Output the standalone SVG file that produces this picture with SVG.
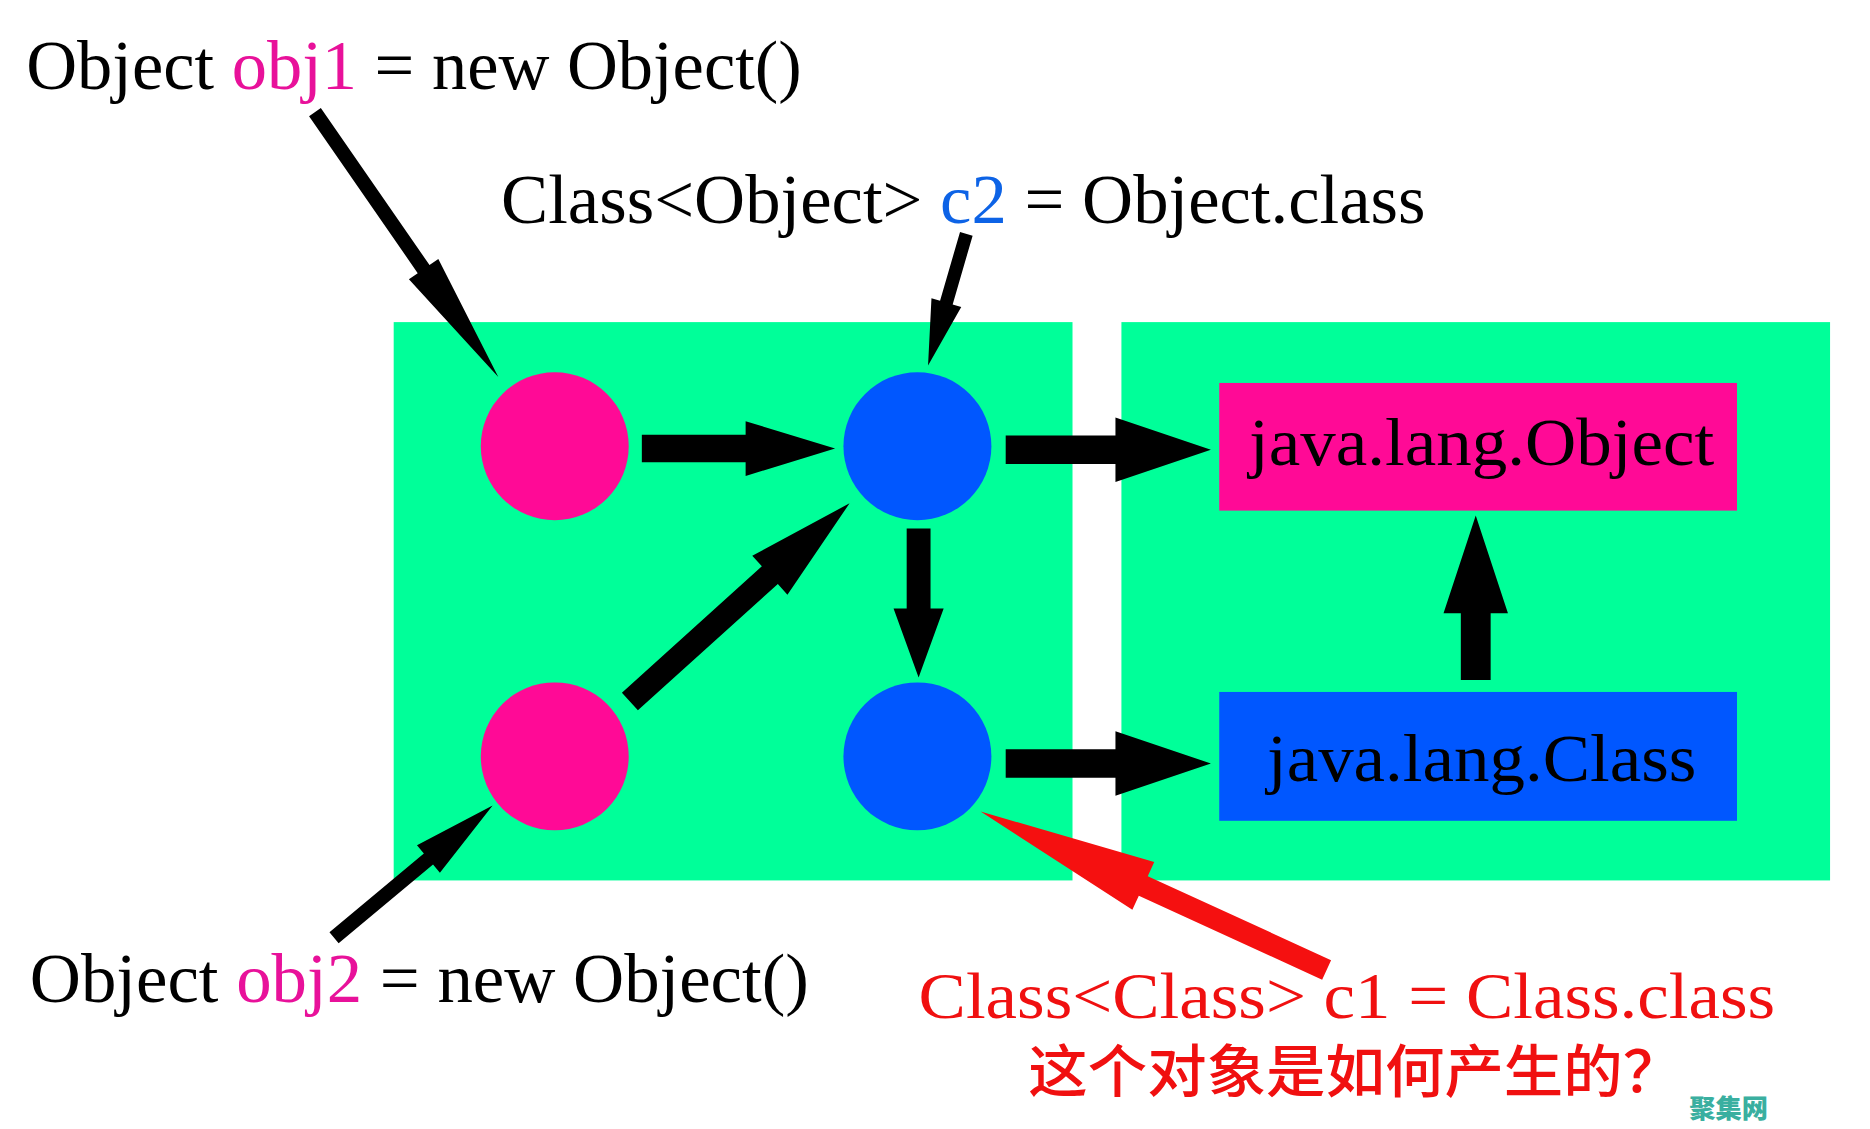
<svg xmlns="http://www.w3.org/2000/svg" width="1870" height="1129" viewBox="0 0 1870 1129">
<style>
.t{font-family:"Liberation Serif","Times New Roman",serif;font-size:58px;fill:#000}
.k{font-family:"Liberation Serif","Times New Roman",serif;font-size:56px;fill:#000}
.g{fill:#00FF99}
.pk{fill:#FF0A96}
.bl{fill:#0057FF}
.a{fill:#000}
</style>
<rect width="1870" height="1129" fill="#fff"/>
<g transform="scale(1.193)">
<g id="groupLeft"><rect class="g" x="330" y="270" width="569" height="468"/></g>
<g id="groupRight"><rect class="g" x="940" y="270" width="594" height="468"/></g>
<g id="obj1"><circle class="pk" cx="465" cy="374" r="62"/></g>
<g id="obj2"><circle class="pk" cx="465" cy="634" r="62"/></g>
<g id="c2"><circle class="bl" cx="769" cy="374" r="62"/></g>
<g id="c1"><circle class="bl" cx="769" cy="634" r="62"/></g>
<g id="javaObject"><rect class="pk" x="1022" y="321" width="434" height="107"/><text class="k" x="1047" y="390" textLength="390" lengthAdjust="spacingAndGlyphs">java.lang.Object</text></g>
<g id="javaClass"><rect class="bl" x="1022" y="580" width="434" height="108"/><text class="k" x="1062" y="655" textLength="360" lengthAdjust="spacingAndGlyphs">java.lang.Class</text></g>
<g id="labels">
<text class="t" x="22" y="75" textLength="650" lengthAdjust="spacingAndGlyphs">Object <tspan fill="#E8119A">obj1</tspan> = new Object()</text>
<text class="t" x="420" y="187" textLength="775" lengthAdjust="spacingAndGlyphs">Class&lt;Object&gt; <tspan fill="#0D63E6">c2</tspan> = Object.class</text>
<text class="t" x="25" y="840" textLength="653" lengthAdjust="spacingAndGlyphs">Object <tspan fill="#E8119A">obj2</tspan> = new Object()</text>
<text class="t" x="770" y="853" textLength="718" lengthAdjust="spacingAndGlyphs" style="fill:#F01010;font-size:55px">Class&lt;Class&gt; c1 = Class.class</text>
<text x="862" y="915" textLength="548" lengthAdjust="spacingAndGlyphs" style="font-family:'Noto Sans CJK SC',sans-serif;font-size:48px;font-weight:500;fill:#F01010">这个对象是如何产生的？</text>
<text x="1416" y="937" style="font-family:'Noto Sans CJK SC',sans-serif;font-size:22px;font-weight:900;fill:#3AAFA0">聚集网</text>
</g>
<g id="connectors">
<path class="a" d="M0,-6 L160,-6 L160,-15 L270,0 L160,15 L160,6 L0,6Z" transform="translate(264,94) rotate(55.3)"/>
<path class="a" d="M0,-5.5 L60,-5.5 L60,-13 L115,0 L60,13 L60,5.5 L0,5.5Z" transform="translate(810,196) rotate(106.2)"/>
<path class="a" d="M0,-11.5 L87,-11.5 L87,-23 L162,0 L87,23 L87,11.5 L0,11.5Z" transform="translate(538,376)"/>
<path class="a" d="M0,-12 L92,-12 L92,-27 L172,0 L92,27 L92,12 L0,12Z" transform="translate(843,377)"/>
<path class="a" d="M0,-10 L67,-10 L67,-21 L125,0 L67,21 L67,10 L0,10Z" transform="translate(770,443) rotate(90)"/>
<path class="a" d="M0,-10 L158,-10 L158,-22 L248,0 L158,22 L158,10 L0,10Z" transform="translate(528,588) rotate(-42.06)"/>
<path class="a" d="M0,-12 L92,-12 L92,-27 L172,0 L92,27 L92,12 L0,12Z" transform="translate(843,640)"/>
<path class="a" d="M0,-12.5 L56,-12.5 L56,-27 L138,0 L56,27 L56,12.5 L0,12.5Z" transform="translate(1237,570) rotate(-90)"/>
<path class="a" d="M0,-6 L103,-6 L103,-15 L173,0 L103,15 L103,6 L0,6Z" transform="translate(280,786) rotate(-39.8)"/>
<path fill="#F51010" d="M0,-9 L169,-9 L169,-22 L319,0 L169,22 L169,9 L0,9Z" transform="translate(1112,813) rotate(204.6)"/>
</g>
</g>
</svg>
